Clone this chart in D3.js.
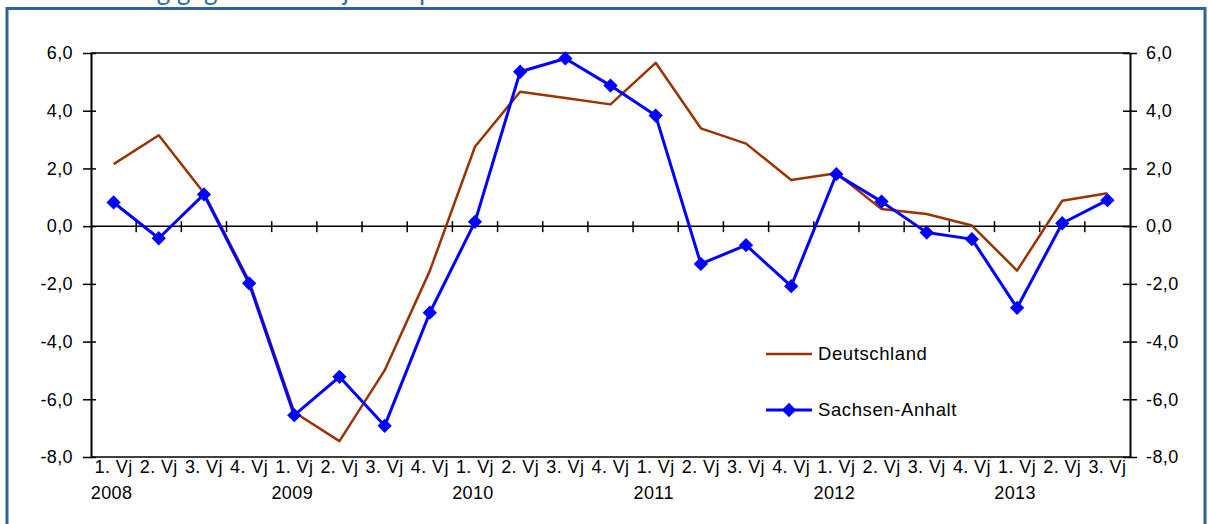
<!DOCTYPE html>
<html>
<head>
<meta charset="utf-8">
<script src="https://cdn.jsdelivr.net/npm/d3@7"></script>
<style>
  html, body { margin: 0; padding: 0; background: #ffffff; }
  svg { display: block; }
  text { font-family: "Liberation Sans", Arial, sans-serif; }
</style>
</head>
<body>
<svg id="chart" width="1208" height="524"></svg>
<script>
// ---- data ----
const quarters = ["1. Vj","2. Vj","3. Vj","4. Vj","1. Vj","2. Vj","3. Vj","4. Vj","1. Vj","2. Vj","3. Vj","4. Vj","1. Vj","2. Vj","3. Vj","4. Vj","1. Vj","2. Vj","3. Vj","4. Vj","1. Vj","2. Vj","3. Vj"];
const years = ["2008","","","","2009","","","","2010","","","","2011","","","","2012","","","","2013","",""];
const deutschland = [2.15, 3.15, 1.15, -1.9, -6.45, -7.45, -5.0, -1.55, 2.75, 4.66, 4.44, 4.22, 5.66, 3.39, 2.86, 1.6, 1.83, 0.59, 0.42, 0.02, -1.54, 0.88, 1.14];
const sachsenAnhalt = [0.82, -0.42, 1.1, -1.98, -6.55, -5.22, -6.92, -3.0, 0.15, 5.35, 5.81, 4.87, 3.83, -1.31, -0.66, -2.08, 1.8, 0.85, -0.22, -0.45, -2.83, 0.1, 0.9];
const yTicks = [-8, -6, -4, -2, 0, 2, 4, 6];
const seriesNames = ["Deutschland", "Sachsen-Anhalt"];
const titleText = "Veränderung gegenüber Vorjahresquartal in %";

// ---- layout ----
const svg = d3.select("#chart");
const L = 91, R = 1130, T = 53, B = 457;
const idx = d3.range(quarters.length);
const x = d3.scaleBand().domain(idx).range([L, R]).padding(0);
const cx = i => x(i) + x.bandwidth() / 2;
const y = d3.scaleLinear().domain([-8, 6]).range([B, T]);
const fmt = v => d3.format(".1f")(v).replace(".", ",").replace("−", "-");
const FS = "18px", LS = "0.4px";

// title (cut off at top, as in the reference)
svg.append("text")
  .attr("x", 24).attr("y", 0)
  .attr("fill", "#2e6da4")
  .style("font-family", "Lato, 'Open Sans', sans-serif")
  .style("font-size", "26px")
  .text(titleText);

// frame
svg.append("rect")
  .attr("x", 7).attr("y", 8.5)
  .attr("width", 1198).attr("height", 540)
  .attr("fill", "none")
  .attr("stroke", "#2f6399")
  .attr("stroke-width", 3);

// plot box lines
const axisCol = "#000";
svg.append("line").attr("x1", L).attr("x2", R).attr("y1", T).attr("y2", T).attr("stroke", axisCol).attr("stroke-width", 1.5);
svg.append("line").attr("x1", L).attr("x2", R).attr("y1", B).attr("y2", B).attr("stroke", axisCol).attr("stroke-width", 1.5);

// left axis
const gl = svg.append("g").attr("transform", `translate(${L},0)`)
  .call(d3.axisLeft(y).tickValues(yTicks).tickFormat(fmt).tickSizeInner(7).tickSizeOuter(0).tickPadding(11));
gl.select(".domain").attr("stroke", axisCol).attr("stroke-width", 2);
gl.selectAll(".tick line").attr("x1", 5).attr("x2", -8).attr("stroke-width", 1.5);
gl.selectAll(".tick text").style("font-size", FS).style("letter-spacing", LS).attr("fill", "#000");

// right axis
const gr = svg.append("g").attr("transform", `translate(${R},0)`)
  .call(d3.axisRight(y).tickValues(yTicks).tickFormat(fmt).tickSizeInner(7).tickSizeOuter(0).tickPadding(9));
gr.select(".domain").attr("stroke", axisCol).attr("stroke-width", 2);
gr.selectAll(".tick line").attr("x1", -7).attr("x2", 7).attr("stroke-width", 1.5);
gr.selectAll(".tick text").style("font-size", FS).style("letter-spacing", LS).attr("fill", "#000");

// zero line with category ticks
const y0 = y(0);
svg.append("line").attr("x1", L).attr("x2", R).attr("y1", y0).attr("y2", y0).attr("stroke", axisCol).attr("stroke-width", 1.5);
svg.append("g").selectAll("line").data(idx.slice(1)).join("line")
  .attr("x1", i => x(i)).attr("x2", i => x(i))
  .attr("y1", y0 - 5).attr("y2", y0 + 6)
  .attr("stroke", axisCol).attr("stroke-width", 1.5);

// category labels
const lab = svg.append("g").style("font-size", FS).style("letter-spacing", LS).attr("fill", "#000");
lab.selectAll("text.q").data(idx).join("text").attr("class", "q")
  .attr("x", i => cx(i)).attr("y", 473).attr("text-anchor", "middle").text(i => quarters[i]);
lab.selectAll("text.yr").data(idx.filter(i => years[i])).join("text").attr("class", "yr")
  .attr("x", i => cx(i) - 2).attr("y", 499).attr("text-anchor", "middle").text(i => years[i]);

// lines
const line = d3.line().x((d, i) => cx(i)).y(d => y(d));
const brown = "#993300", blue = "#0000ff";
svg.append("path").datum(deutschland).attr("d", line).attr("fill", "none")
  .attr("stroke", brown).attr("stroke-width", 2.5).attr("stroke-linejoin", "round");
svg.append("path").datum(sachsenAnhalt).attr("d", line).attr("fill", "none")
  .attr("stroke", blue).attr("stroke-width", 3).attr("stroke-linejoin", "round");
const diamond = d3.symbol().type(d3.symbolDiamond2).size(130);
svg.append("g").selectAll("path").data(sachsenAnhalt).join("path")
  .attr("transform", (d, i) => `translate(${cx(i)},${y(d)})`)
  .attr("d", diamond).attr("fill", blue);

// legend
const lg = svg.append("g");
lg.append("line").attr("x1", 766).attr("x2", 812).attr("y1", 354).attr("y2", 354).attr("stroke", brown).attr("stroke-width", 2.5);
lg.append("text").attr("x", 818).attr("y", 360).style("font-size", "18.5px").style("letter-spacing", "0.6px").text(seriesNames[0]);
lg.append("line").attr("x1", 766).attr("x2", 812).attr("y1", 410).attr("y2", 410).attr("stroke", blue).attr("stroke-width", 3);
lg.append("path").attr("transform", "translate(789,410)").attr("d", diamond).attr("fill", blue);
lg.append("text").attr("x", 818).attr("y", 416).style("font-size", "18.5px").style("letter-spacing", "0.6px").text(seriesNames[1]);
</script>
</body>
</html>
